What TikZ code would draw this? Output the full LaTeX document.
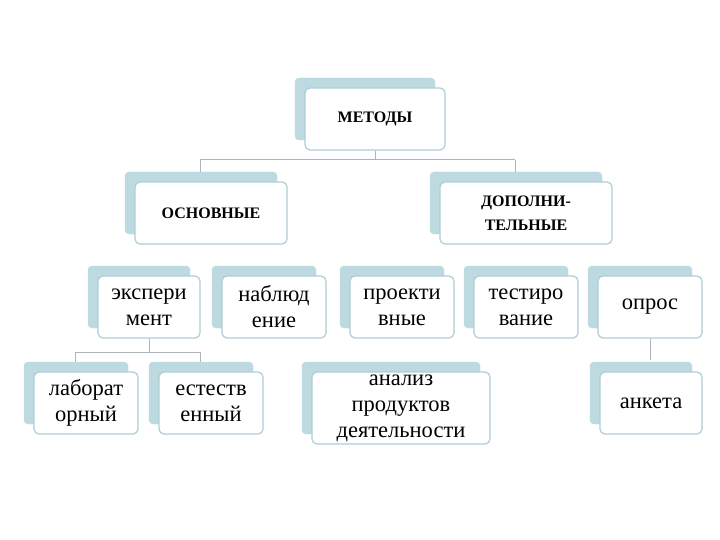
\documentclass[tikz,border=0pt]{standalone}
\usepackage{fontspec}
\setmainfont{Liberation Serif}
\definecolor{backc}{RGB}{188,218,224}
\definecolor{edgec}{RGB}{175,205,212}
\definecolor{linec}{RGB}{170,180,185}
\tikzset{
 backbox/.style={fill=backc,draw=backc,rounded corners=4pt,inner sep=0pt},
 frontbox/.style={fill=white,draw=edgec,line width=1.2pt,rounded corners=5pt,inner sep=0pt,align=center,font=\fontsize{22.5}{26}\selectfont},
 headtxt/.style={font=\bfseries\fontsize{16}{24}\selectfont},
 conn/.style={draw=linec,line width=1pt}
}
\newcommand\mybox[7][]{%
 \node[backbox,minimum width=#5pt,minimum height=#6pt] (#2b) at (#3-10,#4-10) {};
 \node[frontbox,minimum width=#5pt,minimum height=#6pt,#1] (#2) at (#3,#4) {#7};}
\begin{document}
\begin{tikzpicture}[x=1pt,y=-1pt]
\useasboundingbox (0,0) rectangle (720,540);
\mybox[headtxt]{met}{375}{119}{140}{62}{МЕТОДЫ}
\mybox[headtxt]{osn}{211}{213}{152}{62}{ОСНОВНЫЕ}
\mybox[headtxt]{dop}{526}{213}{172}{62}{ДОПОЛНИ-\\ТЕЛЬНЫЕ}
\mybox{eks}{149}{307}{102}{62}{экспери\\мент}
\mybox{nab}{274}{307}{104}{62}{наблюд\\ение}
\mybox{pro}{402}{307}{104}{62}{проекти\\вные}
\mybox{tes}{526}{307}{104}{62}{тестиро\\вание}
\mybox{opr}{650}{307}{104}{62}{опрос}
\mybox{lab}{86}{403}{104}{62}{лаборат\\орный}
\mybox{est}{211}{403}{104}{62}{естеств\\енный}
\mybox{ana}{401}{408}{178}{72}{анализ\\продуктов\\деятельности}
\mybox{ank}{651}{403}{102}{62}{анкета}
\coordinate (j1) at (375,160);
\draw[conn] (met.south) -- (j1);
\draw[conn] (200,160) -- (515,160);
\draw[conn] (200,160) -- (200,172);
\draw[conn] (515,160) -- (515,172);
\coordinate (j2) at (149,352);
\draw[conn] (eks.south) -- (j2);
\draw[conn] (75,352) -- (200,352);
\draw[conn] (75,352) -- (75,362);
\draw[conn] (200,352) -- (200,362);
\coordinate (j3) at (650,360);
\draw[conn] (opr.south) -- (j3);
\end{tikzpicture}
\end{document}
